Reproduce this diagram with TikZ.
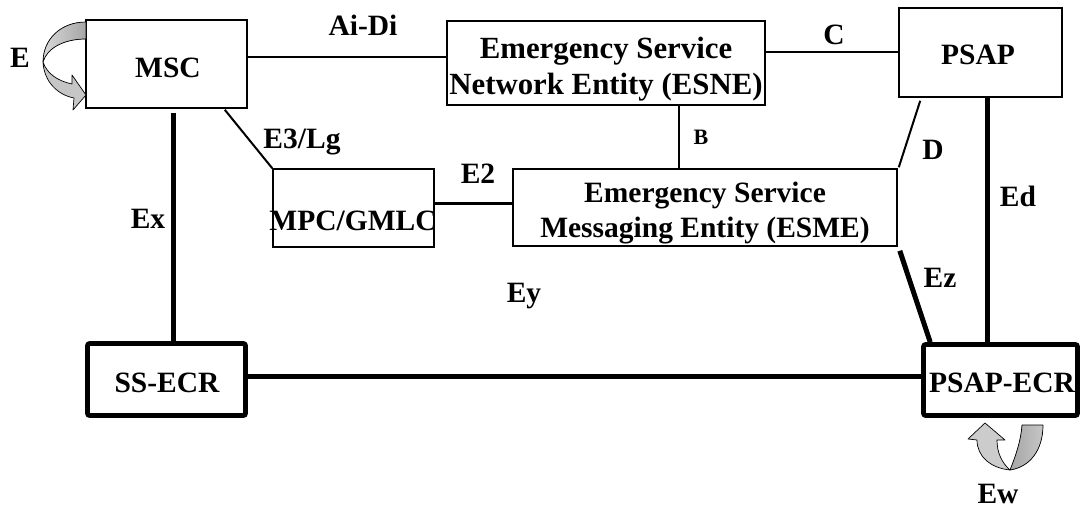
\documentclass[tikz,border=0pt]{standalone}
\usepackage{fontspec}
\setmainfont{Liberation Serif}
\usetikzlibrary{calc}
\begin{document}
\begin{tikzpicture}[x=1pt,y=-1pt,
  box/.style={draw, line width=1.6pt, inner sep=0pt},
  ecrbox/.style={draw, line width=4.6pt, rounded corners=2pt, inner sep=0pt},
  txt/.style={font=\fontsize{29.5}{35}\selectfont\bfseries, inner sep=0pt, anchor=base},
  bigtxt/.style={font=\fontsize{30.8}{37}\selectfont\bfseries, inner sep=0pt, anchor=base},
  smalltxt/.style={font=\fontsize{22}{26}\selectfont\bfseries, inner sep=0pt, anchor=base},
  thinlink/.style={line width=2pt},
  midlink/.style={line width=3pt},
  heavylink/.style={line width=5pt},
  ribbon/.style={draw=black, line width=0.7pt, line join=round}]
\useasboundingbox (0,0) rectangle (1081,508);

% boxes
\node[box, minimum width=161, minimum height=88] (msc) at (166.5,64) {};
\node[box, minimum width=318, minimum height=84] (esne) at (606,63) {};
\node[box, minimum width=163, minimum height=89] (psap) at (980.5,52.5) {};
\node[box, minimum width=161, minimum height=78] (mpc) at (353.5,208) {};
\node[box, minimum width=384, minimum height=77] (esme) at (705,207.5) {};
\node[ecrbox, minimum width=158, minimum height=72] (ssecr) at (166.5,379.5) {};
\node[ecrbox, minimum width=154, minimum height=71] (psapecr) at (1000.5,380) {};

% box texts
\node[txt] (msc-t) at (168,78) {MSC};
\node[bigtxt] (esne-t1) at (606,59) {Emergency Service};
\node[bigtxt] (esne-t2) at (606,95) {Network Entity (ESNE)};
\node[txt] (psap-t) at (978,65) {PSAP};
\node[txt] (mpc-t) at (353,230) {MPC/GMLC};
\node[txt] (esme-t1) at (705,202) {Emergency Service};
\node[txt] (esme-t2) at (705,237) {Messaging Entity (ESME)};
\node[txt] (ssecr-t) at (167,392) {SS-ECR};
\node[txt] (psapecr-t) at (1002,392) {PSAP-ECR};

% interfaces
\draw[thinlink] ($(msc.east)+(0,-7)$) coordinate (aidi) -- (aidi -| esne.west);
\draw[thinlink] (esne.east |- psap.west) -- (psap.west);
\draw[thinlink] ($(esne.south)+(73,0)$) coordinate (bif) -- (bif |- esme.north);
\draw[thinlink] ($(msc.south east)+(-23,1)$) -- (mpc.north west);
\draw[midlink] ($(mpc.east)+(0,-5)$) coordinate (etwo) -- (etwo -| esme.west);
\draw[thinlink] ($(esme.north east)+(1,-1)$) -- ($(psap.south west)+(22,3)$);
\draw[heavylink] ($(esme.south east)+(2,4)$) -- ($(psapecr.north west)+(9,0)$);
\draw[heavylink] ($(psap.south)+(6.5,0)$) coordinate (edif) -- (edif |- psapecr.north);
\draw[heavylink] ($(msc.south)+(6.5,4)$) coordinate (exif) -- (exif |- ssecr.north);
\draw[heavylink] ($(ssecr.east)+(0,-3.5)$) coordinate (eyif) -- (eyif -| psapecr.west);

% interface labels
\node[txt] (l-aidi) at (363,36) {Ai-Di};
\node[txt] (l-c) at (834,45) {C};
\node[txt] (l-e) at (20,68) {E};
\node[txt] (l-e3) at (302,149) {E3/Lg};
\node[txt] (l-e2) at (478,183) {E2};
\node[smalltxt] (l-b) at (701,144) {B};
\node[txt] (l-d) at (933,160) {D};
\node[txt] (l-ed) at (1018,206) {Ed};
\node[txt] (l-ez) at (940,287) {Ez};
\node[txt] (l-ex) at (148,228) {Ex};
\node[txt] (l-ey) at (524,302) {Ey};
\node[txt] (l-ew) at (998,503) {Ew};

% loop arrow E at the MSC
\filldraw[ribbon, fill=gray!45]
  (43,62) .. controls (44,82) and (58,95) .. (74,98) -- (73,110) -- (86,95)
  -- (72,75) -- (72,84) .. controls (58,81) and (47,74) .. (43,62) -- cycle;
\filldraw[ribbon, left color=gray!30, right color=gray!70]
  (86,22) .. controls (60,22) and (43,40) .. (43,62)
  .. controls (47,48) and (64,39) .. (86,39) -- cycle;

% loop arrow Ew at the PSAP-ECR
\filldraw[ribbon, fill=gray!40]
  (1010,470) .. controls (990,468) and (977,456) .. (977,440) -- (968,439)
  -- (985,423) -- (1005,440) -- (997,440)
  .. controls (997,453) and (1002,463) .. (1010,470) -- cycle;
\filldraw[ribbon, left color=gray!70, right color=gray!45]
  (1022,425) -- (1043,425) .. controls (1043,450) and (1030,467) .. (1010,470)
  .. controls (1016,455) and (1021,440) .. (1022,425) -- cycle;
\end{tikzpicture}
\end{document}
